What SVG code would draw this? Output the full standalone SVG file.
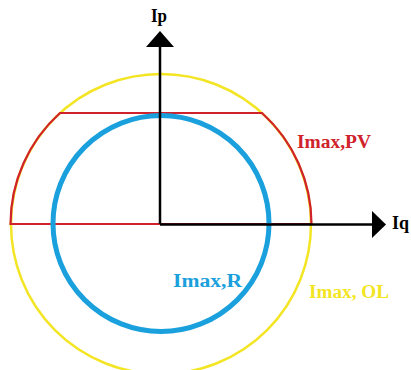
<svg xmlns="http://www.w3.org/2000/svg" width="411" height="370" viewBox="0 0 411 370">
<style>
text{font-family:"Liberation Serif","Times New Roman",serif;font-size:18px;font-weight:bold}
.ax{stroke:#000;stroke-width:2.5;fill:none}
</style>
<rect width="411" height="370" fill="#fff"/>
<g id="ol">
<circle cx="161" cy="224" r="150" fill="none" stroke="#f3e524" stroke-width="2.5"/>
<text x="309" y="298" fill="#f3e524" textLength="80" lengthAdjust="spacingAndGlyphs">Imax, OL</text>
</g>
<g id="pv">
<path d="M10.5,224 H311.5 A150,150 0 0 0 262,113 H60 A150,150 0 0 0 10.5,224 Z" fill="none" stroke="#d0222b" stroke-width="2.2"/>
<text x="297" y="148" fill="#d0222b" textLength="74" lengthAdjust="spacingAndGlyphs">Imax,PV</text>
</g>
<g id="r">
<circle cx="161" cy="223.5" r="108" fill="none" stroke="#1aa0dc" stroke-width="5"/>
<text x="173" y="287" fill="#1aa0dc" textLength="69" lengthAdjust="spacingAndGlyphs">Imax,R</text>
</g>
<g id="connectors">
<line class="ax" x1="160" y1="224" x2="160" y2="45"/>
<polygon points="160,31 146,47 174,47" fill="#000"/>
<line class="ax" x1="160" y1="224.5" x2="373" y2="224.5"/>
<polygon points="386,224.5 372,211 372,238" fill="#000"/>
</g>
<g id="ip"><text x="151" y="22" fill="#000" textLength="16" lengthAdjust="spacingAndGlyphs">Ip</text></g>
<g id="iq"><text x="392" y="229" fill="#000" textLength="17" lengthAdjust="spacingAndGlyphs">Iq</text></g>
</svg>
